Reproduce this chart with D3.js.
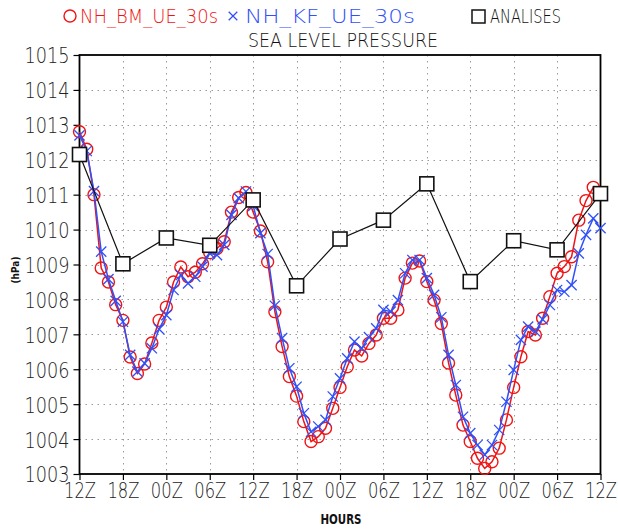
<!DOCTYPE html>
<html>
<head>
<meta charset="utf-8">
<script src="https://cdn.jsdelivr.net/npm/d3@7"></script>
<style>
  html, body { margin: 0; padding: 0; background: #fff; }
  svg { display: block; }
  text { font-family: "DejaVu Sans", sans-serif; }
</style>
</head>
<body>
<svg id="chart" width="618" height="529"></svg>
<script>
// Hourly sea level pressure (hPa), 72 h run starting at 12Z
const bmValues = [
  1012.8, 1012.3, 1011.0, 1008.9, 1008.5, 1007.85, 1007.4, 1006.35, 1005.88, 1006.15,
  1006.75, 1007.4, 1007.78, 1008.5, 1008.93, 1008.65, 1008.78, 1009.02, 1009.34, 1009.46,
  1009.65, 1010.5, 1010.92, 1011.06, 1010.5, 1009.96, 1009.08, 1007.65, 1006.65, 1005.79,
  1005.23, 1004.5, 1003.93, 1004.07, 1004.31, 1004.88, 1005.48, 1006.07, 1006.55, 1006.38,
  1006.74, 1006.98, 1007.46, 1007.46, 1007.7, 1008.61, 1009.04, 1009.1, 1008.51, 1007.98,
  1007.31, 1006.18, 1005.26, 1004.4, 1003.93, 1003.45, 1003.16, 1003.35, 1003.74, 1004.55,
  1005.48, 1006.36, 1007.08, 1006.98, 1007.46, 1008.08, 1008.75, 1008.94, 1009.22, 1010.27,
  1010.83, 1011.21, 1011.05
];
const kfValues = [
  1012.7, 1012.25, 1011.1, 1009.37, 1008.58, 1007.96, 1007.36, 1006.41, 1005.93, 1006.17,
  1006.6, 1007.15, 1007.55, 1008.27, 1008.7, 1008.46, 1008.65, 1008.94, 1009.32, 1009.27,
  1009.56, 1010.42, 1010.9, 1011.09, 1010.68, 1009.9, 1009.3, 1007.82, 1006.89, 1006.03,
  1005.5, 1004.74, 1004.21, 1004.36, 1004.55, 1005.22, 1005.74, 1006.31, 1006.79, 1006.6,
  1006.92, 1007.17, 1007.7, 1007.65, 1007.98, 1008.75, 1009.13, 1009.13, 1008.61, 1008.13,
  1007.49, 1006.41, 1005.55, 1004.64, 1004.17, 1003.83, 1003.55, 1003.83, 1004.26, 1005.07,
  1005.98, 1006.84, 1007.22, 1007.08, 1007.43, 1007.84, 1008.27, 1008.22, 1008.41, 1009.32,
  1009.85, 1010.32, 1010.04
];
// Analyses every 6 hours
const analysisHours = [0, 6, 12, 18, 24, 30, 36, 42, 48, 54, 60, 66, 72];
const analysisValues = [
  1012.15, 1009.02, 1009.76, 1009.55, 1010.85, 1008.39, 1009.73, 1010.27, 1011.31,
  1008.51, 1009.68, 1009.42, 1011.03
];
const xTickLabels = ["12Z", "18Z", "00Z", "06Z", "12Z", "18Z", "00Z", "06Z", "12Z", "18Z", "00Z", "06Z", "12Z"];
const yTicks = [1003, 1004, 1005, 1006, 1007, 1008, 1009, 1010, 1011, 1012, 1013, 1014, 1015];

const seriesNames = ["NH_BM_UE_30s", "NH_KF_UE_30s", "ANALISES"];
const RED = "#f01414";
const BLUE = "#3050f8";
const LIGHT = 200;

const svg = d3.select("#chart");
const plot = { left: 79.5, right: 600.5, top: 55, bottom: 474 };

const x = d3.scaleLinear().domain([0, 72]).range([plot.left, plot.right]);
const y = d3.scaleLinear().domain([1003, 1015]).range([plot.bottom, plot.top]);

// Dotted grid
const grid = svg.append("g").attr("stroke", "#9a9a9a").attr("stroke-width", 1)
  .attr("stroke-dasharray", "1.5,4.5");
grid.selectAll("line.h").data(yTicks.slice(1, -1)).join("line")
  .attr("x1", plot.left).attr("x2", plot.right)
  .attr("y1", d => Math.round(y(d)) + 0.5).attr("y2", d => Math.round(y(d)) + 0.5);
grid.selectAll("line.v").data(analysisHours.slice(1, -1)).join("line")
  .attr("x1", d => Math.round(x(d)) + 0.5).attr("x2", d => Math.round(x(d)) + 0.5)
  .attr("y1", plot.top).attr("y2", plot.bottom);

// Axes
const yAxis = d3.axisLeft(y).tickValues(yTicks).tickSize(6).tickPadding(4).tickFormat(d3.format("d"));
const gy = svg.append("g").attr("transform", `translate(${plot.left},0)`).call(yAxis);
gy.select(".domain").remove();
gy.selectAll(".tick line").attr("stroke", "#000").attr("stroke-width", 1.2);
gy.selectAll(".tick text")
  .attr("font-size", 22).attr("fill", "#222").style("font-weight", LIGHT)
  .attr("textLength", 45).attr("lengthAdjust", "spacingAndGlyphs")
  .attr("dy", "0.36em");

const xAxis = d3.axisBottom(x).tickValues(analysisHours).tickSize(6).tickPadding(2)
  .tickFormat((d, i) => xTickLabels[i]);
const gx = svg.append("g").attr("transform", `translate(0,${plot.bottom})`).call(xAxis);
gx.select(".domain").remove();
gx.selectAll(".tick line").attr("stroke", "#000").attr("stroke-width", 1.2);
gx.selectAll(".tick text")
  .attr("font-size", 21).attr("fill", "#222").style("font-weight", LIGHT)
  .attr("textLength", 32).attr("lengthAdjust", "spacingAndGlyphs")
  .attr("dy", "0.78em");

// Frame
svg.append("rect")
  .attr("x", plot.left).attr("y", plot.top)
  .attr("width", plot.right - plot.left).attr("height", plot.bottom - plot.top)
  .attr("fill", "none").attr("stroke", "#000").attr("stroke-width", 1.8);

// Series helpers
const line = d3.line().x(d => x(d[0])).y(d => y(d[1]));
const bmPts = bmValues.map((v, i) => [i, v]);
const kfPts = kfValues.map((v, i) => [i, v]);
const anPts = analysisValues.map((v, i) => [analysisHours[i], v]);

// BM run: red line with open circles
svg.append("path").datum(bmPts).attr("d", line)
  .attr("fill", "none").attr("stroke", RED).attr("stroke-width", 1.5);
svg.append("g").selectAll("circle").data(bmPts).join("circle")
  .attr("cx", d => x(d[0])).attr("cy", d => y(d[1])).attr("r", 6)
  .attr("fill", "none").attr("stroke", RED).attr("stroke-width", 1.4);

// KF run: blue line with crosses
svg.append("path").datum(kfPts).attr("d", line)
  .attr("fill", "none").attr("stroke", BLUE).attr("stroke-width", 1.5);
const cross = d3.symbol().type(d3.symbolX).size(70);
svg.append("g").selectAll("path").data(kfPts).join("path")
  .attr("transform", d => `translate(${x(d[0])},${y(d[1])})`)
  .attr("d", cross)
  .attr("fill", "none").attr("stroke", BLUE).attr("stroke-width", 1.3);

// Analyses: black line with white squares
svg.append("path").datum(anPts).attr("d", line)
  .attr("fill", "none").attr("stroke", "#111").attr("stroke-width", 1.2);
svg.append("g").selectAll("rect").data(anPts).join("rect")
  .attr("x", d => x(d[0]) - 7).attr("y", d => y(d[1]) - 7)
  .attr("width", 14).attr("height", 14)
  .attr("fill", "#fff").attr("stroke", "#111").attr("stroke-width", 1.6);

// Legend
const legend = svg.append("g");
legend.append("circle").attr("cx", 70).attr("cy", 16).attr("r", 6)
  .attr("fill", "none").attr("stroke", RED).attr("stroke-width", 1.4);
legend.append("text").attr("x", 80).attr("y", 23).text(seriesNames[0])
  .attr("font-size", 20).attr("fill", RED).style("font-weight", LIGHT)
  .attr("textLength", 138).attr("lengthAdjust", "spacingAndGlyphs");
legend.append("path").attr("transform", "translate(233,16)").attr("d", d3.symbol().type(d3.symbolX).size(50))
  .attr("fill", "none").attr("stroke", BLUE).attr("stroke-width", 1.3);
legend.append("text").attr("x", 245).attr("y", 23).text(seriesNames[1])
  .attr("font-size", 20).attr("fill", BLUE).style("font-weight", LIGHT)
  .attr("textLength", 170).attr("lengthAdjust", "spacingAndGlyphs");
legend.append("rect").attr("x", 472).attr("y", 10).attr("width", 13).attr("height", 13)
  .attr("fill", "#fff").attr("stroke", "#111").attr("stroke-width", 1.5);
legend.append("text").attr("x", 490).attr("y", 23).text(seriesNames[2])
  .attr("font-size", 20).attr("fill", "#111").style("font-weight", LIGHT)
  .attr("textLength", 71).attr("lengthAdjust", "spacingAndGlyphs");

// Title and axis titles
svg.append("text").attr("x", 343).attr("y", 47).attr("text-anchor", "middle")
  .attr("font-size", 20).attr("fill", "#111").style("font-weight", LIGHT)
  .attr("textLength", 190).attr("lengthAdjust", "spacingAndGlyphs")
  .text("SEA LEVEL PRESSURE");
svg.append("text").attr("x", 341).attr("y", 524).attr("text-anchor", "middle")
  .attr("font-size", 14).style("font-weight", 700).attr("fill", "#111")
  .attr("textLength", 41).attr("lengthAdjust", "spacingAndGlyphs")
  .text("HOURS");
svg.append("text").attr("transform", "translate(19,270) rotate(-90)").attr("text-anchor", "middle")
  .attr("font-size", 11).style("font-weight", 700).attr("fill", "#111")
  .attr("textLength", 27).attr("lengthAdjust", "spacingAndGlyphs")
  .text("(hPa)");
</script>
</body>
</html>
